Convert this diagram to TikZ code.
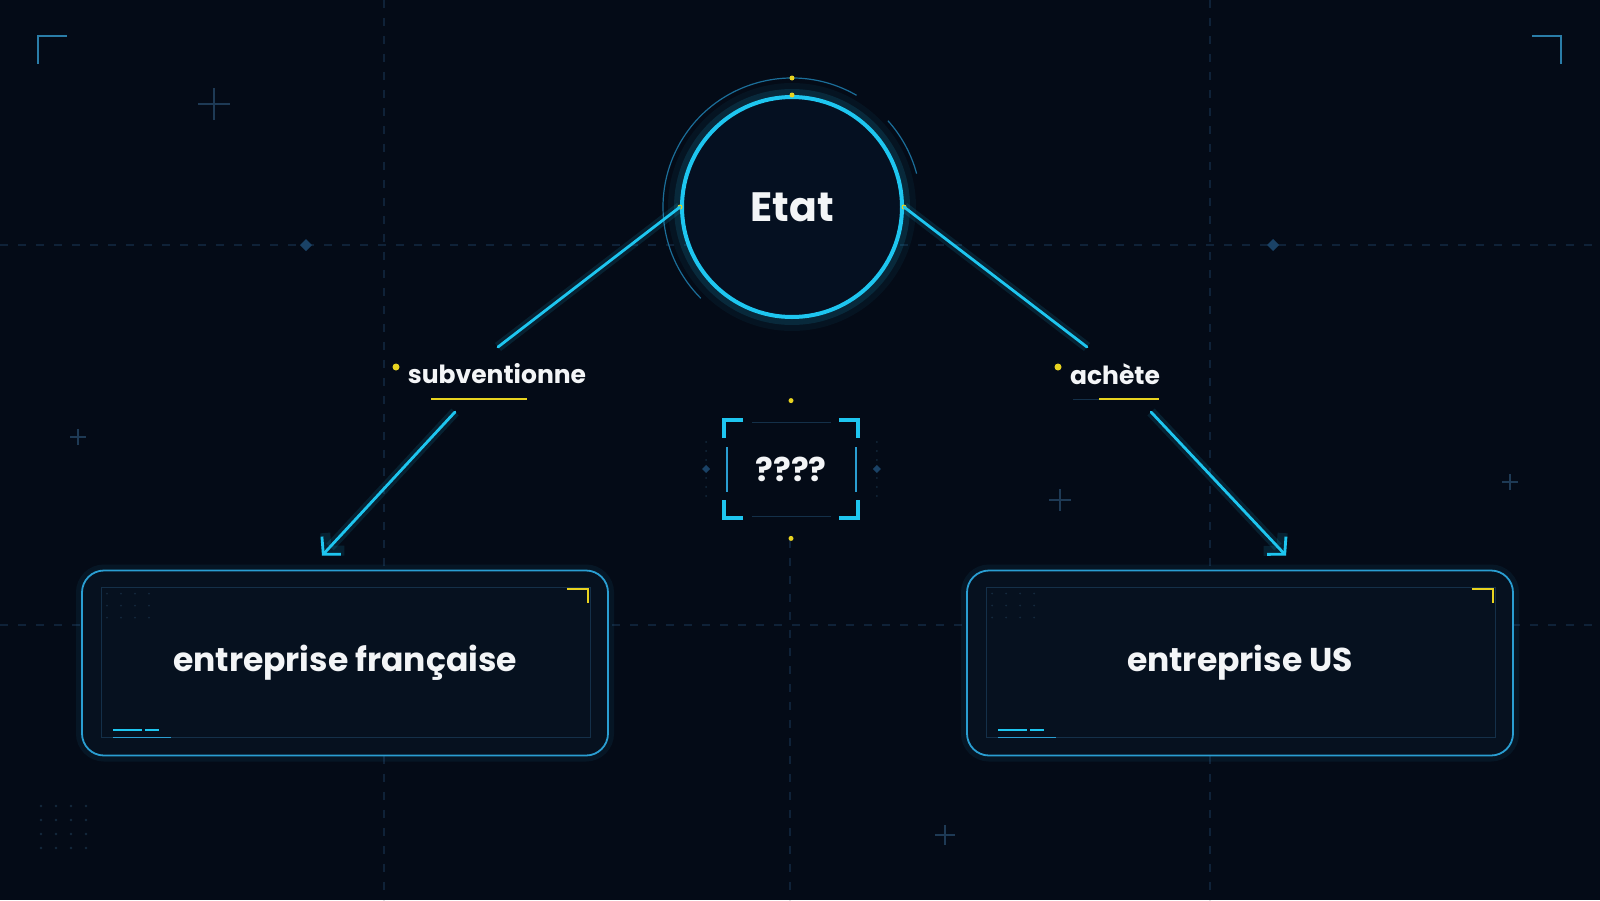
\documentclass[tikz,border=0pt]{standalone}
\usepackage{fontspec}
\setmainfont{Poppins}
\usepackage{xcolor}
\usepackage{tikz}
\usetikzlibrary{positioning,arrows.meta,calc}

\definecolor{bg}{HTML}{040B17}
\definecolor{core}{HTML}{051021}
\definecolor{panel}{HTML}{06111F}
\definecolor{neon}{HTML}{1EC6F0}
\definecolor{frame}{HTML}{2A9ED2}
\definecolor{gold}{HTML}{E8D320}
\definecolor{dim}{HTML}{143049}
\definecolor{gridc}{HTML}{0F2238}
\definecolor{crossc}{HTML}{1E3A55}
\definecolor{cornerc}{HTML}{2A7DA8}
\definecolor{dotc}{HTML}{14293D}
\definecolor{diam}{HTML}{1A4266}
\definecolor{halo}{HTML}{1B6E99}
\definecolor{ink}{HTML}{F3F5F7}

\begin{document}
\begin{tikzpicture}[x=0.5pt,y=-0.5pt,
    every node/.style={text=ink},
    state/.style={circle,draw=neon,line width=2pt,fill=core,minimum size=110pt,inner sep=0pt,
      font=\fontsize{20.5}{24}\selectfont\bfseries,
      preaction={draw=neon,line width=14pt,opacity=0.05},
      preaction={draw=neon,line width=8pt,opacity=0.12}},
    entity/.style={rectangle,rounded corners=11pt,draw=frame,line width=0.9pt,fill=panel,
      minimum height=92.5pt,inner sep=0pt,font=\fontsize{16.5}{20}\selectfont\bfseries,
      preaction={draw=frame,line width=6pt,opacity=0.08}},
    verb/.style={font=\fontsize{12.5}{15}\selectfont\bfseries,inner sep=0pt},
    query/.style={minimum width=66.5pt,minimum height=49pt,inner sep=0pt,
      font=\fontsize{16.5}{20}\selectfont\bfseries},
    link/.style={draw=neon,line width=1.4pt,line cap=round,
      preaction={draw=neon,line width=5pt,opacity=0.12}},
    pointer/.style={link,-{Straight Barb[length=6pt,width=13pt]}},
    bracket/.style={draw=neon,line width=2pt},
    faint/.style={draw=dim,line width=0.5pt},
    underline/.style={draw=gold,line width=1pt},
    gridline/.style={draw=gridc,line width=0.6pt,dash pattern=on 4pt off 5pt},
    cross/.style={draw=crossc,line width=0.8pt},
    pagecorner/.style={draw=cornerc,line width=1pt},
  ]
  % background and grid
  \fill[bg] (0,0) rectangle (1600,900);
  \useasboundingbox (0,0) rectangle (1600,900);
  \draw[gridline] (0,245) -- (1600,245);
  \draw[gridline] (0,625) -- (1600,625);
  \draw[gridline] (384,0) -- (384,900);
  \draw[gridline] (1210,0) -- (1210,900);
  \draw[gridline] (790,540) -- (790,900);
  \foreach \x in {306,1273}
    \fill[diam] (\x,239) -- (\x+6,245) -- (\x,251) -- (\x-6,245) -- cycle;
  \foreach \x/\y/\s in {214/104/16,78/437/8,1060/500/11,1510/482/8,945/835/10}
    \draw[cross] (\x-\s,\y) -- (\x+\s,\y) (\x,\y-\s) -- (\x,\y+\s);
  \draw[pagecorner] (67,36) -- (38,36) -- (38,64);
  \draw[pagecorner] (1532,36) -- (1561,36) -- (1561,64);
  \foreach \i in {0,...,3}
    \foreach \j in {0,...,3}
      \fill[dotc] (41+15*\i,806+14*\j) circle[radius=1.3];

  % nodes
  \node[state] (etat) at (792,207) {Etat};
  \node[verb] (subv) at (497,374) {subventionne};
  \node[verb] (achat) at (1115,374) {achète};
  \node[query] (q) at (791,469) {????};
  \node[entity,minimum width=263pt] (fr) at (345,663) {entreprise française};
  \node[entity,minimum width=273pt] (us) at (1240,663) {entreprise US};

  % halo round the state
  \draw[halo,line width=0.6pt] (etat.center) ++(-60:129) arc[start angle=-60,end angle=-225,radius=129];
  \draw[halo,line width=0.6pt] (etat.center) ++(-15:129) arc[start angle=-15,end angle=-42,radius=129];
  \foreach \p in {etat.north,etat.west,etat.east}
    \fill[gold] (\p) circle[radius=2.5];
  \fill[gold] ($(etat.center)+(0,-129)$) circle[radius=2.5];

  % verb marks
  \fill[gold] ($(subv.center)+(-101,-7)$) circle[radius=3.5];
  \draw[underline] ($(subv.center)+(-66,25)$) -- ($(subv.center)+(30,25)$);
  \fill[gold] ($(achat.center)+(-57,-7)$) circle[radius=3.5];
  \draw[faint] ($(achat.center)+(-42,25)$) -- ($(achat.center)+(-16,25)$);
  \draw[underline] ($(achat.center)+(-16,25)$) -- ($(achat.center)+(44,25)$);

  % query frame
  \foreach \c/\dx/\dy in {north west/19/18,north east/-19/18,south west/19/-18,south east/-19/-18}
    \draw[bracket] ($(q.\c)+(\dx,0)$) -- (q.\c) -- ($(q.\c)+(0,\dy)$);
  \draw[faint] ($(q.north west)+(28,3)$) -- ($(q.north east)+(-27,3)$);
  \draw[faint] ($(q.south west)+(28,-2)$) -- ($(q.south east)+(-27,-2)$);
  \draw[frame,line width=0.7pt] ($(q.west)+(3,-22)$) -- ($(q.west)+(3,23)$);
  \draw[frame,line width=0.7pt] ($(q.east)+(-2,-22)$) -- ($(q.east)+(-2,23)$);
  \fill[gold] ($(q.north)+(0,-19)$) circle[radius=2.5];
  \fill[gold] ($(q.south)+(0,20)$) circle[radius=2.5];
  \foreach \s in {-18} {
    \fill[diam] ($(q.west)+(\s,0)$) ++(0,-4) -- ++(4,4) -- ++(-4,4) -- ++(-4,-4) -- cycle;
    \foreach \t in {-27,-18,-9,9,18,27}
      \fill[dotc] ($(q.west)+(\s,\t)$) circle[radius=1];
  }
  \foreach \t in {-27,-18,-9,9,18,27}
    \fill[dotc] ($(q.east)+(19,\t)$) circle[radius=1];
  \fill[diam] ($(q.east)+(19,0)$) ++(0,-4) -- ++(4,4) -- ++(-4,4) -- ++(-4,-4) -- cycle;

  % panel details
  \foreach \b in {fr,us} {
    \draw[faint] ($(\b.north west)+(20,18)$) rectangle ($(\b.south east)+(-18,-19)$);
    \draw[gold,line width=1pt] ($(\b.north east)+(-42,19)$) -- ($(\b.north east)+(-21,19)$)
      -- ($(\b.north east)+(-21,33)$);
    \draw[neon,line width=1pt] ($(\b.south west)+(32,-26)$) -- ($(\b.south west)+(61,-26)$)
      ($(\b.south west)+(64,-26)$) -- ($(\b.south west)+(78,-26)$);
    \draw[frame,line width=0.6pt] ($(\b.south west)+(32,-19)$) -- ($(\b.south west)+(90,-19)$);
    \foreach \i in {0,...,3}
      \foreach \j in {0,...,2}
        \fill[dotc] ($(\b.north west)+(26+14*\i,24+12*\j)$) circle[radius=1];
  }

  % connectors
  \draw[link] (etat.west) -- ($(subv.center)+(1,-27)$);
  \draw[link] (etat.east) -- ($(achat.center)+(-28,-27)$);
  \draw[pointer] ($(subv.center)+(-42,38)$) -- ($(fr.north)+(-23,-14)$);
  \draw[pointer] ($(achat.center)+(36,38)$) -- ($(us.north)+(46,-14)$);
\end{tikzpicture}
\end{document}
